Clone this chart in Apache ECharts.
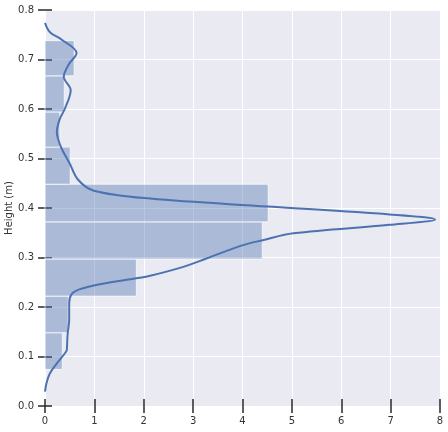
<!DOCTYPE html>
<html><head><meta charset="utf-8">
<script src="https://cdn.jsdelivr.net/npm/echarts@6/dist/echarts.min.js"></script>
<style>html,body{margin:0;padding:0;background:#fff}#c{width:448px;height:432px}</style>
</head><body><div id="c"></div>
<script>
// Histogram bins (height, m) and density values
const binStarts = [0.074, 0.148, 0.222, 0.297, 0.372, 0.448, 0.523, 0.594, 0.667];
const binEnds   = [0.148, 0.222, 0.297, 0.372, 0.448, 0.523, 0.594, 0.667, 0.738];
const binDensity = [0.35, 0.47, 1.85, 4.40, 4.52, 0.51, 0.30, 0.39, 0.59];
// KDE curve
const kdeHeight  = [0.029, 0.046, 0.066, 0.086, 0.106, 0.113, 0.130, 0.147, 0.174, 0.208, 0.226, 0.236, 0.246, 0.258, 0.263, 0.281, 0.298, 0.325, 0.335, 0.349, 0.366, 0.377, 0.387, 0.403, 0.419, 0.435, 0.457, 0.490, 0.524, 0.554, 0.580, 0.600, 0.638, 0.665, 0.690, 0.713, 0.740, 0.755, 0.774];
const kdeDensity = [0.00, 0.03, 0.10, 0.24, 0.40, 0.44, 0.45, 0.46, 0.49, 0.49, 0.54, 0.71, 1.11, 1.85, 2.13, 2.80, 3.27, 4.01, 4.41, 5.03, 6.98, 7.90, 6.98, 4.52, 2.13, 0.99, 0.67, 0.50, 0.32, 0.24, 0.30, 0.40, 0.52, 0.38, 0.48, 0.64, 0.34, 0.10, 0.00];
const xTicks = [0, 1, 2, 3, 4, 5, 6, 7, 8];
const yTicks = [0.0, 0.1, 0.2, 0.3, 0.4, 0.5, 0.6, 0.7, 0.8];

const chart = echarts.init(document.getElementById('c'));
const tickStyle = {show: true, length: 7, lineStyle: {color: '#2a2a2a', width: 1.5}};
const labelStyle = {color: '#333', fontSize: 10, fontFamily: 'DejaVu Sans'};
const binData = binStarts.map((s, i) => [s, binEnds[i], binDensity[i]]);
const kdeData = kdeHeight.map((h, i) => [kdeDensity[i], h]);

chart.setOption({
  animation: false,
  backgroundColor: '#fff',
  grid: {left: 45, right: 8, top: 10, bottom: 26, containLabel: false, outerBoundsMode: 'none',
         show: true, backgroundColor: '#EAEAF2', borderWidth: 0},
  xAxis: [
    {type: 'value', min: xTicks[0], max: xTicks[xTicks.length - 1], interval: 1, position: 'bottom',
     axisLine: {show: false}, axisTick: tickStyle,
     axisLabel: Object.assign({margin: 10}, labelStyle),
     splitLine: {show: true, lineStyle: {color: '#fff', width: 1}}},
    {type: 'value', min: xTicks[0], max: xTicks[xTicks.length - 1], interval: 1, position: 'top',
     axisLine: {show: false}, axisTick: tickStyle, axisLabel: {show: false}, splitLine: {show: false}}
  ],
  yAxis: [
    {type: 'value', min: yTicks[0], max: yTicks[yTicks.length - 1], interval: 0.1, position: 'left',
     name: 'Height (m)', nameLocation: 'middle', nameGap: 31, nameMoveOverlap: false,
     nameTextStyle: {color: '#333', fontSize: 10, fontFamily: 'DejaVu Sans'},
     axisLine: {show: false}, axisTick: tickStyle,
     axisLabel: Object.assign({margin: 11, formatter: v => v.toFixed(1)}, labelStyle),
     splitLine: {show: true, lineStyle: {color: '#fff', width: 1}}},
    {type: 'value', min: yTicks[0], max: yTicks[yTicks.length - 1], interval: 0.1, position: 'right',
     axisLine: {show: false}, axisTick: tickStyle, axisLabel: {show: false}, splitLine: {show: false}}
  ],
  series: [
    {type: 'custom', xAxisIndex: 0, yAxisIndex: 0, data: binData,
     encode: {x: 2, y: [0, 1]},
     renderItem: function (params, api) {
       const p0 = api.coord([0, api.value(1)]);
       const p1 = api.coord([api.value(2), api.value(0)]);
       return {type: 'rect',
         shape: {x: p0[0], y: p0[1], width: p1[0] - p0[0], height: p1[1] - p0[1]},
         style: {fill: 'rgba(76,114,176,0.4)', stroke: 'rgba(255,255,255,0.7)', lineWidth: 1}};
     }},
    {type: 'line', xAxisIndex: 0, yAxisIndex: 0, data: kdeData, smooth: 0.35, symbol: 'none',
     lineStyle: {color: '#4C72B0', width: 2}, z: 5}
  ]
});
</script></body></html>
